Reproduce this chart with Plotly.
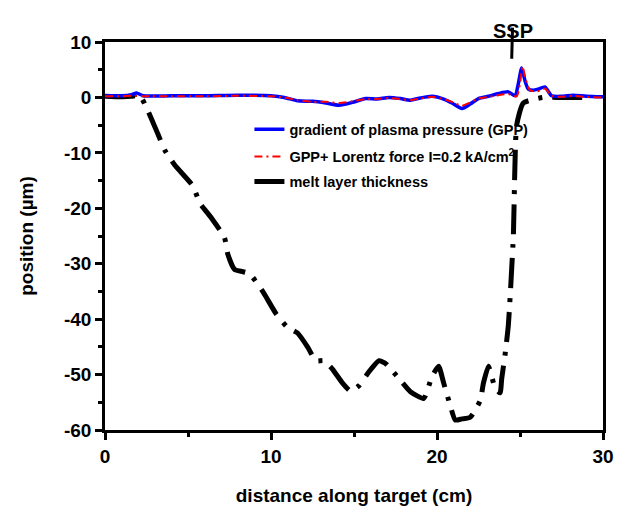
import plotly.graph_objects as go

# Surface position of the target along its length (cm -> µm)
gpp_x = [0, 1.0, 1.6, 1.9, 2.3, 4, 6, 8, 10, 10.8, 11.6, 12.5, 13.3, 14.1, 14.9, 15.7,
         16.4, 17.1, 17.8, 18.4, 19.0, 19.7, 20.4, 20.9, 21.5, 22.0, 22.5, 23.1, 23.7,
         24.3, 24.7, 24.9, 25.1, 25.3, 25.5, 25.8, 26.1, 26.5, 26.9, 27.5, 28.2, 29, 30]
gpp_y = [0.3, 0.3, 0.5, 0.8, 0.3, 0.3, 0.3, 0.4, 0.3, 0.0, -0.6, -0.7, -1.0, -1.4, -0.9, -0.2,
         -0.3, 0.0, -0.2, -0.5, -0.1, 0.2, -0.3, -1.0, -2.0, -1.2, -0.2, 0.2, 0.7,
         1.0, 0.3, 2.5, 5.3, 3.0, 1.5, 1.3, 1.5, 1.9, 0.3, 0.2, 0.4, 0.2, 0.1]

lor_x = [0, 1.0, 1.6, 2.3, 4, 6, 8, 10, 10.8, 11.6, 12.5, 13.3, 14.1, 14.9, 15.7,
         16.4, 17.1, 17.8, 18.4, 19.0, 19.7, 20.4, 20.9, 21.5, 22.0, 22.5, 23.1, 23.7,
         24.3, 24.8, 25.0, 25.15, 25.35, 25.6, 25.9, 26.2, 26.5, 26.9, 27.5, 28.2, 29, 30]
lor_y = [0.2, 0.2, 0.3, 0.2, 0.2, 0.2, 0.3, 0.2, 0.0, -0.5, -0.8, -0.8, -1.0, -0.7, -0.3,
         -0.3, -0.1, -0.3, -0.5, -0.2, 0.1, -0.3, -0.8, -1.5, -0.9, -0.2, 0.1, 0.4,
         0.6, 0.2, 2.5, 5.6, 3.2, 1.3, 1.1, 1.2, 1.6, 0.3, 0.1, 0.3, 0.1, 0.0]

melt_x = [0, 1.0, 1.6, 2.1, 2.6, 3.2, 3.6, 4.2, 5.3, 5.7, 6.4, 7.2, 7.4, 7.8, 8.7,
          9.5, 10.3, 11.0, 11.6, 12.2, 12.7, 13.2, 13.7, 14.3, 14.8, 15.3, 15.9, 16.5,
          16.9, 17.7, 18.4, 19.2, 19.7, 20.1, 20.4, 20.8, 21.1, 21.5, 22.0, 22.6, 22.8,
          23.1, 23.5, 23.8, 23.9, 24.1, 24.3, 24.6, 24.8, 25.2, 26.4, 27.2, 28.6, 29.0]
melt_y = [0.2, 0.1, 0.2, 0.3, -2.5, -6.7, -9.5, -12.2, -16.0, -19.0, -21.7, -25.3, -28.3, -31.0, -31.8,
          -35.0, -39.0, -41.5, -42.5, -45.0, -47.5, -47.5, -49.0, -51.5, -53.0, -52.0, -49.5, -47.5,
          -48.0, -50.7, -53.1, -54.3, -50.3, -48.5, -51.5, -55.6, -58.2, -58.0, -57.7, -54.7, -51.5,
          -48.5, -52.4, -53.3, -50.7, -46.4, -41.0, -25.0, -5.0, -1.0, 0.0, 0.0, 0.0, 0.0]

x_ticks = [0, 10, 20, 30]
y_ticks = [10, 0, -10, -20, -30, -40, -50, -60]

FONT = "Arial, Liberation Sans, sans-serif"

fig = go.Figure()
fig.add_trace(go.Scatter(
    x=melt_x, y=melt_y, mode="lines", name="melt layer thickness",
    line=dict(color="black", width=5, dash="30px,10px,4px,10px", shape="spline", smoothing=0.5),
    legend="legend3"))
fig.add_trace(go.Scatter(
    x=gpp_x, y=gpp_y, mode="lines", name="gradient of plasma pressure (GPP)",
    line=dict(color="#0000ff", width=3.5, shape="spline", smoothing=0.6),
    legend="legend"))
fig.add_trace(go.Scatter(
    x=lor_x, y=lor_y, mode="lines", name="GPP+ Lorentz force I=0.2 kA/cm<sup>2</sup>",
    line=dict(color="#ff0000", width=2, dash="8px,4px,2px,4px", shape="spline", smoothing=0.6),
    legend="legend2"))

axis_common = dict(
    showline=True, linewidth=2.5, linecolor="black", mirror=True,
    ticks="outside", ticklen=7, tickwidth=2.5, tickcolor="black",
    showgrid=False, zeroline=False,
    tickfont=dict(family=FONT, size=19, color="black", weight="bold"),
)

fig.update_xaxes(
    range=[0, 30], tickvals=x_ticks, ticktext=[str(v) for v in x_ticks],
    minor=dict(ticks="outside", dtick=5, tick0=0, ticklen=4, tickwidth=2.5, tickcolor="black"),
    title=dict(text="distance along target (cm)", standoff=24,
               font=dict(family=FONT, size=19, color="black", weight="bold")),
    **axis_common)
fig.update_yaxes(
    range=[-60, 10], tickvals=y_ticks, ticktext=[str(v) for v in y_ticks],
    minor=dict(ticks="outside", dtick=5, tick0=0, ticklen=4, tickwidth=2.5, tickcolor="black"),
    title=dict(text="position (µm)", standoff=26,
               font=dict(family=FONT, size=19, color="black", weight="bold")),
    **axis_common)

legend_style = dict(
    xanchor="left", yanchor="middle", bgcolor="rgba(0,0,0,0)", borderwidth=0,
    font=dict(family=FONT, size=14.5, color="black", weight="bold"),
    itemwidth=30,
)
fig.update_layout(
    width=626, height=516,
    margin=dict(l=105, r=21, t=42, b=76),
    plot_bgcolor="white", paper_bgcolor="white",
    showlegend=True,
    legend=dict(x=0.29, y=0.775, **legend_style),
    legend2=dict(x=0.29, y=0.705, **legend_style),
    legend3=dict(x=0.29, y=0.64, **legend_style),
)

# SSP marker above the frame
fig.add_shape(type="line", xref="x", yref="paper", x0=24.55, x1=24.5, y0=1.037, y1=0.957,
              line=dict(color="black", width=3))
fig.add_annotation(x=24.55, xref="x", y=1.063, yref="paper", text="SSP", showarrow=False,
                   font=dict(family=FONT, size=20, color="black", weight="bold"))

fig.write_html("out.html")
